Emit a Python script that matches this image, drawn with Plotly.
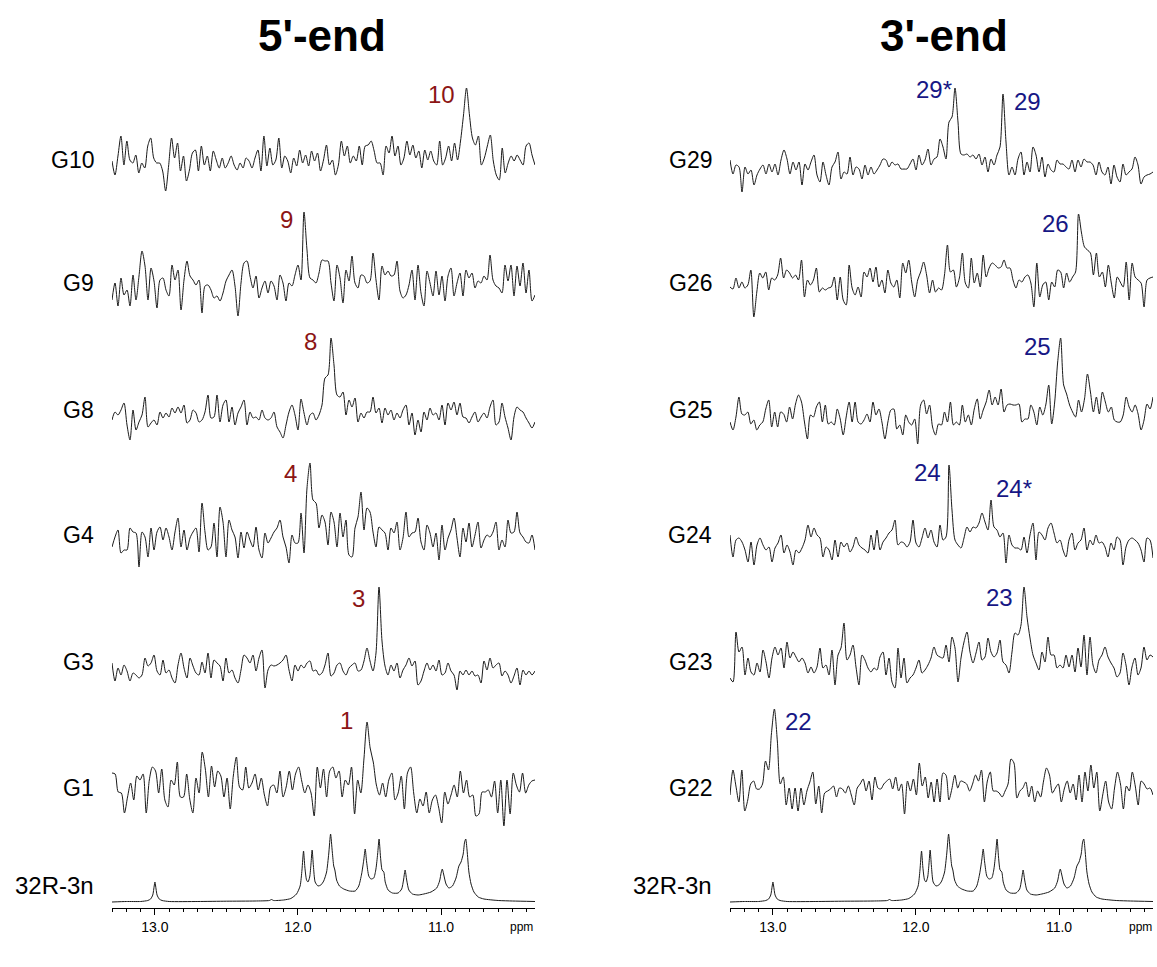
import numpy as np
import plotly.graph_objects as go

W, H = 1157, 967
FONT = "Liberation Sans, Arial, sans-serif"

# Spectral window shared by every trace (ppm, high field on the right)
PPM_HI, PPM_LO = 13.30, 10.343

# ---- 1D imino spectra of the selectively labelled samples (intensity, a.u.) ----
g10 = [2, -12, 7, 27, -2, 22, 3, 0, 8, -10, 0, -5, 17, 25, 5, 0, 0, -8, -28, -3,
       25, 5, 20, -8, 7, -18, -7, 10, 13, -8, 17, -2, 7, -8, 12, 3, -5, 5, -5, 0,
       7, -2, -7, 0, -5, 5, 2, -5, 5, 13, -8, 27, -3, 15, -2, 3, 25, -5, 7, 2,
       -10, 5, -3, 13, 0, 8, -3, 12, 2, 10, -8, 3, 18, -2, 3, -12, -2, 22, 7, 17,
       0, 7, 2, 17, -2, 17, 18, 22, 12, 0, 0, -12, 17, 10, 27, 7, 17, -2, 5, 22,
       8, 18, 5, 12, -5, 13, 3, 12, 2, -2, 22, -2, 5, 17, 2, 20, 3, 22, 48, 75,
       48, 25, 18, 27, -2, 5, 17, 28, 2, -12, -17, 15, -10, 0, 7, 2, 8, 3, -2, 17,
       20, 8, -2]
g9 = [-12, 5, -18, 10, -7, -2, -18, 13, -12, 12, 37, 22, -12, 20, 7, -20, 8, 10, -2, -8,
      23, 8, 18, -22, 8, 27, 12, 8, 3, 8, -25, 2, 3, -2, -10, -8, -13, -5, 7, 13,
      18, 2, -28, 5, 25, 27, 12, 0, 12, -10, 0, 7, -5, 7, 2, -12, 13, 5, -13, 5,
      2, 13, 23, 8, 76, 38, 10, 8, 5, 15, 28, 27, 27, 5, -13, 23, 10, -15, 18, 7,
      32, 5, 0, 13, 12, 5, 7, 35, 8, -12, 22, 13, 17, 12, 13, 27, -3, -10, -7, 3,
      18, -12, 23, -5, -18, 17, 5, -8, 17, -7, 12, -13, 12, 20, -8, 5, 15, -8, 18, 10,
      15, 0, 7, 5, 12, 8, 33, 8, 2, 0, -5, 23, 7, 23, -8, 22, 2, 25, -5, 18,
      -13, -7]
g8 = [-5, 3, 0, 5, 12, -10, -25, 5, -15, -7, 0, 18, -12, -8, -5, -10, 3, -3, 2, -2,
      7, 2, 8, 2, 10, -8, -5, 5, 2, -7, -5, 3, 20, -3, -2, 20, -7, 10, 15, -7,
      8, -10, 2, 8, 15, -10, 3, -3, -2, -5, 5, -3, -5, -3, 3, -12, -17, -23, -10, 3,
      10, 0, -15, 16, 2, -10, 0, 2, -5, 0, 10, 37, 40, 77, 50, 20, 18, 23, 0, 15,
      8, 17, -7, 2, -3, 3, 3, 18, 2, 7, -8, 7, 0, 5, -5, 2, -3, 5, 10, -10,
      2, -20, -5, -17, 3, -5, 7, 0, 2, -5, 10, -10, 12, 5, 13, 0, 12, -2, -3, -8,
      -2, 3, -7, -2, 2, -3, 8, 15, -10, -7, 12, -2, -13, -25, -2, 8, 5, 3, -3, -8,
      -13, -7]
g4 = [-7, 3, 10, -13, -10, -10, 12, 8, 7, -27, 8, 3, -17, 12, -10, 8, 13, 0, 12, 3,
      -10, 8, 22, -7, 10, -10, 2, 8, 12, -12, 37, 8, -10, -7, 17, -17, 33, 18, -17, 20,
      10, 3, -18, 8, -8, 8, 0, -7, 13, -10, -18, 7, -3, 2, 8, 12, 20, 3, -7, -23,
      5, -3, -3, 27, -13, 52, 77, 40, 37, 12, 25, 18, -5, 28, 18, -7, 27, 3, 20, -15,
      -17, 12, 23, 48, 10, 32, 28, 8, -7, 13, 10, 7, -10, 12, 7, 18, -10, 2, 28, 3,
      7, 8, 22, -2, -10, 15, 7, -7, 7, -20, 15, -10, 2, 10, 22, 2, -17, 12, -2, 17,
      -7, 5, 18, -8, 0, 5, 3, 8, 18, -10, 0, -7, 20, 7, 8, 28, 7, 3, -2, -3,
      5, -10]
g3 = [5, -13, 0, -7, 3, -3, -13, -5, -7, -10, -7, 10, 2, 5, 13, -3, -7, 8, -5, -2,
      -10, -15, 3, 15, 0, -10, 10, 2, -5, -7, 6, -5, 15, -10, 8, 5, 2, -13, 10, -5,
      -2, -10, -15, -2, 13, 10, 5, 13, -3, 10, 18, -20, -2, 3, 2, 3, 5, 8, 13, -2,
      -13, 3, -3, 3, 0, 5, 7, -3, -2, -7, -5, 3, 15, -8, -5, 3, 5, -3, -7, 0,
      3, 5, -3, -2, 7, 20, 7, -3, 15, 81, 27, 2, -7, 3, -3, 5, -10, -2, 3, 10,
      2, 7, -17, -13, -3, 5, -2, 3, -3, 8, -7, -5, 5, -3, -7, -22, -3, -7, -2, -7,
      -3, -8, -7, -15, 7, -2, 10, 0, 3, 5, -8, -3, -7, -15, -8, 0, -17, -2, -7, -3,
      -7, -3]
g1 = [17, 16, -2, -3, -23, -7, 7, -10, 14, 10, 16, -23, 10, 23, 19, -3, 21, -10, -17, 10,
      5, 28, -7, -7, 16, -9, -23, 12, -3, 38, 21, -7, 24, 3, 19, 14, -7, 12, -19, 14,
      33, 3, 0, 23, 2, 7, 16, 0, 12, -5, -16, 3, 5, -3, 19, -7, 3, 19, 0, 16,
      23, 9, -3, 5, -3, -26, 23, 2, 21, -7, 19, 23, 12, 19, -7, 10, 5, 23, -24, 10,
      -3, 31, 68, 42, 28, 5, -5, 7, -7, 10, 17, -10, -3, 14, -19, 17, 23, -3, -23, -9,
      -16, -2, -23, -10, -5, -17, -33, -2, -14, -5, 5, -7, 19, -3, 10, -7, -5, -26, -24, -2,
      -2, 0, -7, 9, -23, 10, -36, 10, -24, 17, 5, -2, 17, -3, 5, 9, 10]

g29 = [7, -7, 2, 0, -25, 0, -7, -3, -18, -8, -2, 2, -7, 3, -5, 3, -8, 7, 17, 8,
       -7, 5, -3, 5, -18, 3, -3, 5, 12, -8, -15, 5, -8, -18, 0, 5, 15, -12, -5, -7,
       10, -8, 0, -2, -12, 2, -8, 0, -7, -3, 2, 8, 7, 0, 5, 2, 3, -2, -2, -2,
       3, 8, -3, 12, 2, 7, 18, 2, 8, 10, 28, 20, 8, 45, 50, 79, 45, 13, 12, 13,
       10, 12, 8, 13, 2, 10, -5, 8, 2, 12, 20, 73, 25, -8, 0, -8, 8, 15, -8, 5,
       -5, 20, 12, -5, 10, -10, 3, -3, -5, 7, 3, 3, 0, -2, 7, -5, 7, 0, 8, 5,
       5, 2, -8, 5, -5, -8, 0, -17, 2, -10, -15, 3, -8, -5, -2, 10, 2, -17, -10, -8,
       -7, -5]
g26 = [-2, -4, 7, -3, 3, -3, 0, 15, -32, -7, 12, 7, 13, -5, 7, 5, 10, 27, 7, 15,
       12, 7, 10, 5, 25, -12, 5, 0, 5, 17, -7, -3, -5, -3, -2, 8, -15, 8, -15, -20,
       20, -3, -10, -2, -12, 13, 8, 17, 3, 18, -2, 5, -8, 15, 2, -2, 5, -13, 22, 12,
       25, 3, -12, 5, 13, 23, 10, -8, 5, -7, -3, -5, 10, 40, 13, 15, -2, 7, 32, 2,
       -3, 27, 2, 12, -2, 30, 8, 17, 22, 20, 17, 18, 25, 17, 17, 5, -3, 5, 3, 8,
       10, 2, -22, 22, -12, 0, 3, -15, 3, -2, 15, 13, -3, 12, 3, 8, 13, 71, 52, 38,
       35, 32, 10, 32, 8, 13, -2, 20, 2, -13, 8, 3, -2, 23, -15, 22, 8, 5, 2, -22,
       5, 7, 8]
g25 = [-5, -13, 0, 20, 3, 2, 5, -7, -3, -13, -8, -5, 8, 17, -10, 5, -10, 5, 3, -5,
       10, -2, 13, 22, 15, -5, -22, 2, 0, 10, 15, -5, 12, -7, -5, -8, 8, -2, -18, 0,
       15, -5, 15, -5, -7, -3, 3, -5, 15, 2, 8, -5, -22, -5, 7, 8, -12, -8, -18, 2,
       -5, -8, -2, -27, 12, 17, 3, 12, -10, -18, -7, -8, 5, -5, 15, -8, -5, -8, 12, -5,
       2, -8, 8, 18, -2, 7, 15, 27, 12, 20, 12, 28, 5, 12, 13, 12, 12, 13, -5, -2,
       -2, 12, 5, -8, 10, 2, 12, 32, -7, 15, 55, 79, 32, 23, 12, 5, 0, 17, 5, 18,
       43, 25, 5, 20, 3, 25, 15, 5, 10, -3, -5, -5, 2, 20, 10, 5, 12, 3, -13, -3,
       13, 8, 20]
g24 = [10, -12, 5, 7, 3, -5, -17, 3, -20, 0, 7, 0, -5, -2, -17, -3, 2, 10, -8, 0,
       -7, -20, -5, -8, -3, 5, 20, 8, 17, 10, 7, -12, -2, -5, -15, 5, -12, 3, -2, 2,
       -7, -2, 8, 0, -3, -5, -8, 10, -5, 15, -5, 3, 7, 12, 15, 25, 0, 3, 2, -2,
       3, 25, 2, -2, 7, 17, 7, 15, 3, -2, 20, 5, 8, 80, 35, 5, 0, -3, 7, 18,
       13, 18, 17, 22, 32, 23, 15, 45, 18, 15, 8, 12, -18, 10, 0, -3, -3, -5, 8, -8,
       10, 22, -15, 13, 10, 5, 17, 22, 12, 2, 5, -5, -12, 5, 12, -5, 2, 5, 17, -5,
       5, 0, 10, 2, 3, -2, -12, 2, -5, 8, 5, -20, -2, 5, 7, 5, 2, -5, -17, 7,
       5, -13]
g23 = [-13, -17, 33, 13, 18, -10, 7, -7, -10, 2, -7, 15, 3, -13, 7, 18, 10, 17, -3, 23,
       7, 13, 8, 3, 7, 2, -8, -2, -8, -2, 17, -3, 0, -10, 15, -20, 10, 17, 42, 5,
       10, 20, -2, -20, 10, 5, -3, -7, -3, -5, 8, 13, -10, 7, -17, -23, 17, -13, 7, -18,
       -13, -10, -3, 5, -8, -5, 0, 7, 18, 10, 8, 7, 20, 3, 28, 17, -17, 7, 23, 33,
       13, 2, 12, 23, 5, 8, 27, 13, 8, 12, 25, 3, 0, -8, 13, 32, 30, 40, 78, 48,
       27, 10, 2, -5, 13, 3, 28, 10, 10, -3, 0, -3, 10, -2, 10, -7, 17, -2, 30, -10,
       28, 0, -8, 5, 10, 18, 8, 2, -3, -12, -8, 12, 0, -20, -2, 7, -10, -3, 18, 5,
       10, 8]
g22 = [-2, 23, 7, -9, 23, -18, -7, 9, 12, 4, 4, 9, 32, 23, 59, 84, 52, 9, 16, -12,
       5, -16, 5, -18, 5, -12, 2, 11, 21, -11, 7, -20, 0, 2, 4, 7, -4, 5, 4, 0,
       7, -2, -12, 5, 9, 14, 2, 12, -7, 16, 5, 4, 9, 12, 14, 4, 16, 2, 9, -21,
       12, 2, 14, -2, 30, 7, 16, -5, 11, -9, 14, -9, 20, 18, -7, 4, 18, 5, 12, 11,
       9, 2, 9, 18, 12, 23, -9, 12, 21, 2, 2, 0, -4, 2, 9, 34, 30, -5, 2, 5,
       11, -4, 7, -9, 2, -4, 12, 25, 18, 0, 5, 9, -9, 4, 12, 0, 9, -7, 18, -9,
       21, 2, 28, 5, 21, -18, -2, 12, -9, -16, 5, 21, 9, -16, 7, 2, 21, 7, -12, 12,
       9, 4, 5, -2]

# ---- reference spectrum of the unlabelled 32R-3n construct ----
ref_ppm = [13.30, 13.20, 13.10, 13.05, 13.03, 13.015, 13.005, 13.0, 12.995, 12.985,
           12.97, 12.95, 12.90, 12.70, 12.50, 12.30, 12.20, 12.185, 12.17, 12.10,
           12.05, 12.01, 11.985, 11.972, 11.961, 11.952, 11.94, 11.93, 11.918, 11.909,
           11.901, 11.892, 11.88, 11.86, 11.84, 11.82, 11.80, 11.785, 11.772, 11.76,
           11.75, 11.742, 11.73, 11.71, 11.68, 11.64, 11.60, 11.575, 11.555, 11.54,
           11.53, 11.52, 11.505, 11.49, 11.47, 11.455, 11.443, 11.433, 11.423, 11.412,
           11.40, 11.39, 11.37, 11.34, 11.30, 11.275, 11.262, 11.251, 11.24, 11.225,
           11.20, 11.16, 11.12, 11.07, 11.03, 11.01, 10.998, 10.991, 10.982, 10.965,
           10.945, 10.92, 10.895, 10.875, 10.86, 10.845, 10.835, 10.827, 10.818, 10.805,
           10.79, 10.77, 10.74, 10.70, 10.60, 10.50, 10.343]
ref_int = [0, 0.5, 0.5, 1.5, 3, 7, 16, 20, 16, 7,
           3, 1.5, 0.5, 0.5, 0.8, 1, 1.5, 2.5, 1.5, 2,
           3.5, 8, 16, 32, 51, 35, 22, 20, 25, 38,
           52, 36, 20, 16, 17, 21, 30, 48, 68, 50,
           36, 32, 22, 16, 13, 11, 11, 16, 28, 42,
           53, 40, 26, 23, 24, 33, 48, 63, 45, 32,
           30, 20, 12, 9, 9, 13, 22, 32, 22, 12,
           8, 7, 8, 10, 14, 21, 30, 33, 28, 18,
           14, 16, 24, 36, 40, 48, 60, 63, 52, 30,
           18, 10, 5, 3, 1.5, 1, 0.5]

left_names = ["G10", "G9", "G8", "G4", "G3", "G1"]
left_data = [g10, g9, g8, g4, g3, g1]
right_names = ["G29", "G26", "G25", "G24", "G23", "G22"]
right_data = [g29, g26, g25, g24, g23, g22]

left_peak_text = ["10", "9", "8", "4", "3", "1"]
right_peak_text = ["29*", "29", "26", "25", "24", "24*", "23", "22"]

# ---- layout (pixel geometry of the page) ----
AXIS_Y = 908                      # pixel row of the ppm axis line
left_base = [163, 288, 415, 540, 668, 790]
right_base = [167, 285, 417, 545, 665, 793]
REF_BASE = 902
left_label_y = [160, 283, 410, 535, 662, 788]
right_label_y = [160, 283, 410, 535, 662, 788]
REF_LABEL_Y = 885
left_peak_xy = [(441, 94), (286, 220), (310, 341), (290, 473), (358, 598), (346, 720)]
right_peak_xy = [(934, 89), (1027, 101), (1055, 224), (1037, 346), (927, 472),
                 (1014, 488), (999, 597), (798, 721)]
RED = "#8c1515"
BLUE = "#171785"
LINE = "#1a1a1a"


def px(xp, yp):
    return xp / W, 1 - yp / H


fig = go.Figure()


def add_panel(names, data, bases, xa, ya):
    for name, vals, b in zip(names, data, bases):
        v = np.asarray(vals, dtype=float)
        x = np.linspace(PPM_HI, PPM_LO, len(v))
        fig.add_trace(go.Scatter(x=x, y=b - v, mode="lines", name=name,
                                 line=dict(color=LINE, width=1, shape="spline", smoothing=0.8),
                                 xaxis=xa, yaxis=ya, showlegend=False,
                                 hoverinfo="skip"))
    fig.add_trace(go.Scatter(x=ref_ppm, y=REF_BASE - np.asarray(ref_int, dtype=float),
                             mode="lines", name="32R-3n",
                             line=dict(color=LINE, width=1, shape="spline", smoothing=0.6),
                             xaxis=xa, yaxis=ya, showlegend=False, hoverinfo="skip"))


add_panel(left_names, left_data, left_base, "x", "y")
add_panel(right_names, right_data, right_base, "x2", "y2")

ann = []


def text(xp, yp, s, size, color="black", xanchor="center", bold=False):
    x, y = px(xp, yp)
    ann.append(dict(x=x, y=y, xref="paper", yref="paper", text=f"<b>{s}</b>" if bold else s,
                    showarrow=False, xanchor=xanchor, yanchor="middle",
                    font=dict(family=FONT, size=size, color=color)))


text(322, 35, "5'-end", 44, bold=True)
text(944, 35, "3'-end", 44, bold=True)
for n, yl in zip(left_names, left_label_y):
    text(96, yl, n, 23, xanchor="right")
text(96, REF_LABEL_Y, "32R-3n", 24, xanchor="right")
for n, yl in zip(right_names, right_label_y):
    text(714, yl, n, 23, xanchor="right")
text(714, REF_LABEL_Y, "32R-3n", 24, xanchor="right")
for s, (xp, yp) in zip(left_peak_text, left_peak_xy):
    text(xp, yp, s, 24, RED)
for s, (xp, yp) in zip(right_peak_text, right_peak_xy):
    text(xp, yp, s, 24, BLUE)
text(521, 927, "ppm", 12)
text(1140, 927, "ppm", 12)

ydom = [1 - AXIS_Y / H, 1]
xaxis_style = dict(range=[PPM_HI, PPM_LO], showline=True, linecolor="black", linewidth=1,
                   ticks="outside", ticklen=6, tickwidth=1, tickcolor="black",
                   tick0=13, dtick=1, tickformat=".1f",
                   tickfont=dict(family=FONT, size=14, color="black"),
                   minor=dict(dtick=0.1, ticks="outside", ticklen=3, tickwidth=1,
                              tickcolor="black"),
                   showgrid=False, zeroline=False, fixedrange=True)
yaxis_style = dict(range=[AXIS_Y, 0], domain=ydom, visible=False, fixedrange=True)

fig.update_layout(
    width=W, height=H, margin=dict(l=0, r=0, t=0, b=0),
    paper_bgcolor="white", plot_bgcolor="white",
    xaxis=dict(domain=[112 / W, 535 / W], anchor="y", **xaxis_style),
    yaxis=dict(anchor="x", **yaxis_style),
    xaxis2=dict(domain=[730 / W, 1153 / W], anchor="y2", **xaxis_style),
    yaxis2=dict(anchor="x2", **yaxis_style),
    annotations=ann,
)

fig.write_html("out.html")
